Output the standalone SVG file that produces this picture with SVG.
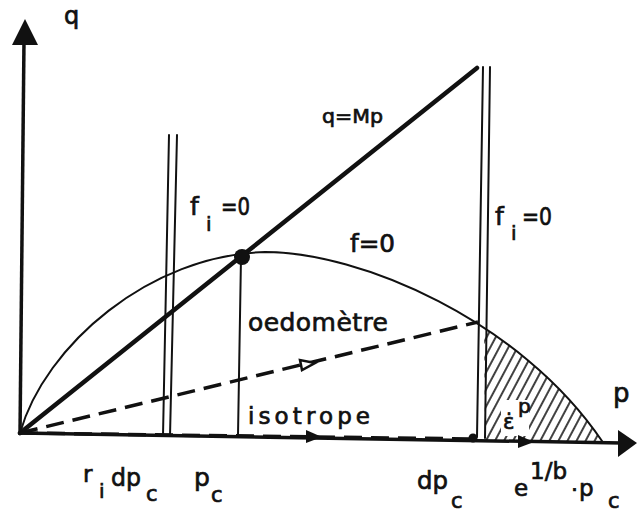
<svg xmlns="http://www.w3.org/2000/svg" width="637" height="513" viewBox="0 0 637 513">
<style>
  text { font-family: "DejaVu Sans", "Liberation Sans", sans-serif; fill: #111; stroke: #111; stroke-width: 0.7; }
  .thin { fill: none; stroke: #111; stroke-width: 2; stroke-linecap: round; }
  .axis { fill: none; stroke: #111; stroke-width: 3.5; }
  .thick { fill: none; stroke: #111; stroke-width: 4.5; stroke-linecap: round; }
  .dash { fill: none; stroke: #111; stroke-width: 3.5; stroke-dasharray: 18 9; }
  .head { fill: #111; stroke: none; }
</style>
<defs>
  <pattern id="hatch" patternUnits="userSpaceOnUse" width="8" height="8" patternTransform="rotate(28)">
    <line x1="4" y1="0" x2="4" y2="8" stroke="#111" stroke-width="1.6"/>
  </pattern>
</defs>
<rect width="637" height="513" fill="#fff"/>

<g id="hatched-region">
  <polygon points="484,327 493,334 511,346 545,374 575,406 589,422 602,441 485,441" fill="url(#hatch)"/>
  <rect x="501" y="400" width="28" height="36" fill="#fff"/>
</g>

<g id="axes">
  <line class="axis" x1="20" y1="435" x2="24" y2="40"/>
  <polygon class="head" points="25,19 12,45 38,45"/>
  <line class="axis" x1="20" y1="433" x2="622" y2="443"/>
  <polygon class="head" points="637,443 618,430 618,457"/>
</g>

<g id="curve-f0">
  <path class="thin" d="M20,433 C45,345 150,255 265,252 C360,252 520,320 602,441"/>
</g>

<g id="line-qMp">
  <line class="thick" x1="20" y1="433" x2="477" y2="68"/>
</g>

<g id="fi-left">
  <line class="thin" x1="169" y1="135" x2="163" y2="436"/>
  <line class="thin" x1="177" y1="135" x2="170" y2="436"/>
</g>

<g id="fi-right">
  <line class="thin" x1="483" y1="67" x2="477" y2="437"/>
  <line class="thin" x1="490" y1="67" x2="485" y2="438"/>
</g>

<g id="critical-point">
  <line class="thin" x1="241" y1="257" x2="238" y2="435"/>
  <circle cx="242" cy="257" r="8" fill="#111"/>
</g>

<g id="connectors">
  <line class="dash" x1="20" y1="433" x2="478" y2="322"/>
  <polygon points="315,363 300,360 302,370" fill="#fff" stroke="#111" stroke-width="2.5"/>
  <line class="dash" x1="20" y1="433" x2="473" y2="439" stroke-width="5" stroke-dasharray="16 5"/>
  <polygon class="head" points="322,437 306,430 306,443"/>
  <polygon class="head" points="534,442 518,435 518,448"/>
  <circle cx="473" cy="438" r="4.5" fill="#111"/>
</g>

<g id="labels">
  <text x="64" y="24" font-size="24">q</text>
  <text x="613" y="402" font-size="26">p</text>
  <text x="322" y="123" font-size="20" textLength="61" lengthAdjust="spacingAndGlyphs">q=Mp</text>
  <text x="190" y="215" font-size="25">f</text>
  <text x="206" y="231" font-size="20">i</text>
  <text x="221" y="215" font-size="24" textLength="29" lengthAdjust="spacingAndGlyphs">=0</text>
  <text x="350" y="252" font-size="24" textLength="45" lengthAdjust="spacingAndGlyphs">f=0</text>
  <text x="495" y="225" font-size="25">f</text>
  <text x="511" y="240" font-size="20">i</text>
  <text x="522" y="225" font-size="24" textLength="30" lengthAdjust="spacingAndGlyphs">=0</text>
  <text x="248" y="331" font-size="25" textLength="140" lengthAdjust="spacing">oedomètre</text>
  <text x="248" y="424" font-size="23" textLength="122" lengthAdjust="spacing">isotrope</text>
  <text x="503" y="429" font-size="21">ε̇<tspan x="518" y="413" font-size="20">p</tspan></text>
  <text x="83" y="482" font-size="23">r</text>
  <text x="99" y="498" font-size="20">i</text>
  <text x="111" y="486" font-size="25" textLength="30" lengthAdjust="spacingAndGlyphs">dp</text>
  <text x="146" y="501" font-size="21">c</text>
  <text x="194" y="486" font-size="25">p</text>
  <text x="211" y="502" font-size="21">c</text>
  <text x="417" y="489" font-size="25" textLength="31" lengthAdjust="spacingAndGlyphs">dp</text>
  <text x="451" y="508" font-size="21">c</text>
  <text x="514" y="496" font-size="23">e</text>
  <text x="530" y="479" font-size="23" textLength="37" lengthAdjust="spacingAndGlyphs">1/b</text>
  <text x="571" y="497" font-size="22">·<tspan x="579" y="496" font-size="23">p</tspan></text>
  <text x="608" y="508" font-size="21">c</text>
</g>
</svg>
